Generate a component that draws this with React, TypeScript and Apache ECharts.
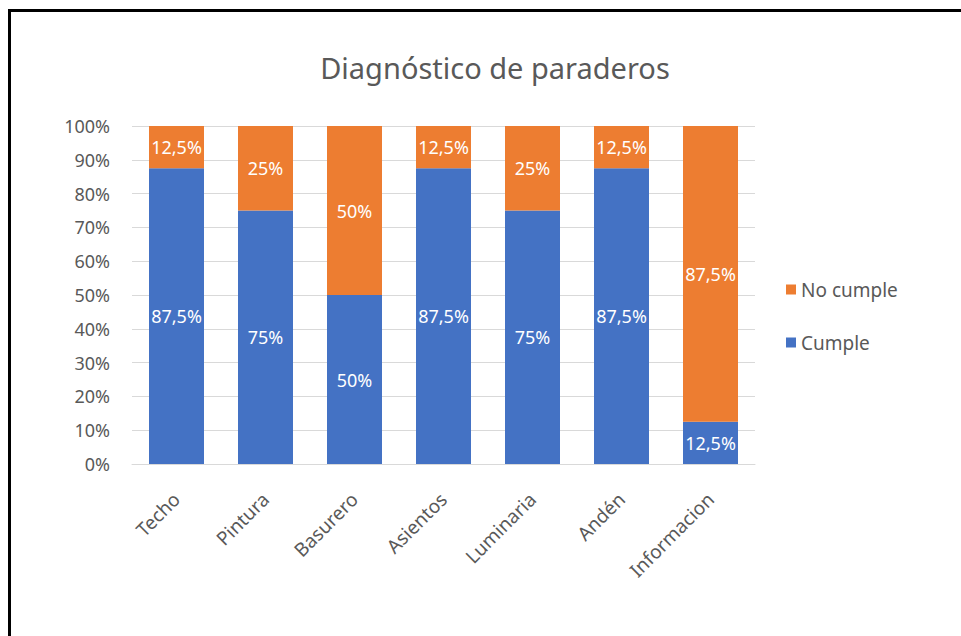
import React, { useEffect, useRef } from "react";
import * as echarts from "echarts";

const categories = ["Techo", "Pintura", "Basurero", "Asientos", "Luminaria", "Andén", "Informacion"];
const cumple = [87.5, 75, 50, 87.5, 75, 87.5, 12.5];
const noCumple = [12.5, 25, 50, 12.5, 25, 12.5, 87.5];
const yTicks = [0, 10, 20, 30, 40, 50, 60, 70, 80, 90, 100];

const FONT = "'Noto Sans', 'Open Sans', sans-serif";
const fmt = (v: number) => String(v).replace(".", ",") + "%";

export default function App() {
  const ref = useRef<HTMLDivElement>(null);
  useEffect(() => {
    if (!ref.current) return;
    const chart = echarts.init(ref.current, undefined, { renderer: "svg" });
    const labelStyle = {
      show: true,
      position: "inside" as const,
      color: "#ffffff",
      fontSize: 18,
      fontFamily: FONT,
      formatter: (p: any) => fmt(p.value),
    };
    chart.setOption({
      animation: false,
      backgroundColor: "#ffffff",
      textStyle: { fontFamily: FONT },
      title: {
        text: "Diagnóstico de paraderos",
        left: 490,
        top: 48,
        textAlign: "center",
        textStyle: { fontSize: 29, fontWeight: "normal", color: "#595959", fontFamily: FONT },
      },
      legend: {
        orient: "vertical",
        left: 781,
        top: 275,
        itemGap: 34,
        itemWidth: 10,
        itemHeight: 10,
        icon: "rect",
        data: ["No cumple", "Cumple"],
        textStyle: { fontSize: 19, color: "#595959", fontFamily: FONT },
      },
      grid: { left: 132, right: 206, top: 126, bottom: 172, containLabel: false },
      xAxis: {
        type: "category",
        data: categories,
        axisLine: { lineStyle: { color: "#d9d9d9", width: 1 } },
        axisTick: { show: false },
        axisLabel: {
          rotate: 45,
          interval: 0,
          margin: 32,
          fontSize: 19,
          color: "#595959",
          fontFamily: FONT,
        },
      },
      yAxis: {
        type: "value",
        min: 0,
        max: 100,
        interval: 10,
        axisLine: { show: false },
        axisTick: { show: false },
        splitLine: { lineStyle: { color: "#d9d9d9", width: 1 } },
        axisLabel: {
          fontSize: 18,
          color: "#595959",
          fontFamily: FONT,
          margin: 22,
          formatter: (v: number) => (yTicks.includes(v) ? v + "%" : ""),
        },
      },
      series: [
        {
          name: "Cumple",
          type: "bar",
          stack: "total",
          barWidth: 55,
          data: cumple,
          itemStyle: { color: "#4472c4" },
          label: labelStyle,
        },
        {
          name: "No cumple",
          type: "bar",
          stack: "total",
          barWidth: 55,
          data: noCumple,
          itemStyle: { color: "#ed7d31" },
          label: labelStyle,
        },
      ],
      graphic: [
        { type: "rect", shape: { x: 8, y: 9, width: 953, height: 3 }, style: { fill: "#000" } },
        { type: "rect", shape: { x: 8, y: 9, width: 3, height: 627 }, style: { fill: "#000" } },
      ],
    });
    return () => chart.dispose();
  }, []);
  return (
    <div
      ref={ref}
      style={{ position: "fixed", left: 0, top: 0, width: 961, height: 636 }}
    />
  );
}
